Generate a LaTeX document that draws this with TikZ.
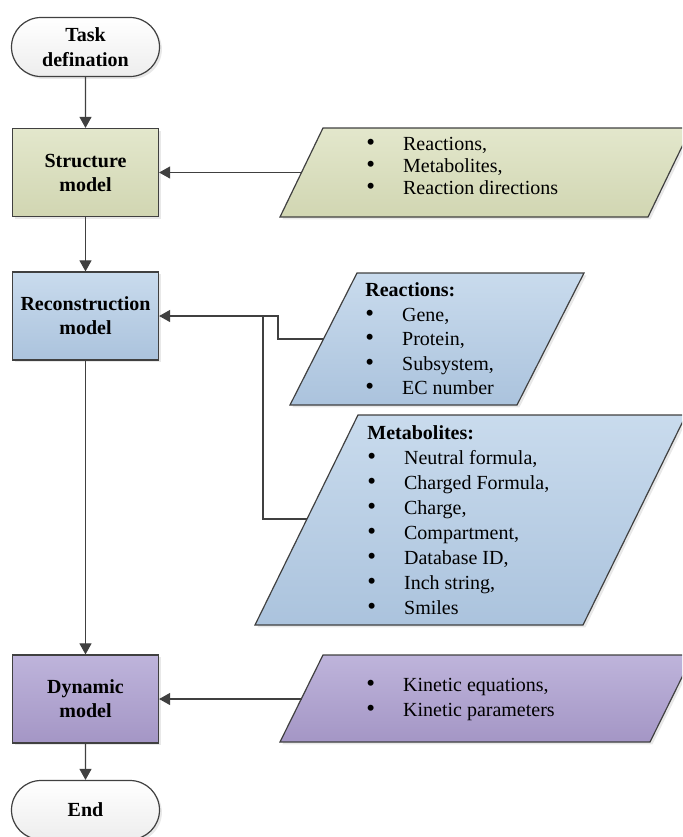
\documentclass[tikz,border=0pt]{standalone}
\usepackage{fontspec}
\setmainfont{Liberation Serif}
\usetikzlibrary{arrows.meta,shapes.misc,shadows}

\definecolor{linegray}{HTML}{404040}
\definecolor{greentop}{HTML}{E3E7CC}
\definecolor{greenbot}{HTML}{D1D6B2}
\definecolor{bluetop}{HTML}{C9DBED}
\definecolor{bluebot}{HTML}{ABC3DD}
\definecolor{purptop}{HTML}{BEB4DB}
\definecolor{purpbot}{HTML}{A496C5}

\tikzset{
  softshadow/.style={drop shadow={opacity=.18,shadow xshift=1.2pt,shadow yshift=-1.2pt}},
  term/.style={rounded rectangle,draw=linegray,line width=.6pt,top color=white,bottom color=gray!14,
    minimum width=74pt,minimum height=29.5pt,inner sep=0pt,align=center,
    font=\fontsize{10}{12.5}\selectfont\bfseries,softshadow},
  model/.style={rectangle,draw=linegray,line width=.6pt,minimum width=73pt,minimum height=44pt,
    inner sep=0pt,align=center,font=\fontsize{10}{12}\selectfont\bfseries,softshadow},
  datashape/.style={draw=linegray,line width=.6pt,softshadow},
  flow/.style={draw=linegray,line width=.55pt,-{Triangle[length=5.5pt,width=6pt]}},
  link/.style={draw=linegray,line width=.55pt},
  list/.style={anchor=west,align=left,inner sep=0pt},
}
\newcommand{\bul}{{\fontsize{12.5}{12}\selectfont\textbullet}\hspace{14pt}}

\begin{document}
\begin{tikzpicture}[x=.5pt,y=-.5pt,line join=miter]
\useasboundingbox (0,0) rectangle (682,837);
\clip (0,0) rectangle (682,837);

% main column
\node[term] (task) at (85.5,47) {Task\\defination};
\node[model,top color=greentop,bottom color=greenbot] (structure) at (85.5,172.5) {Structure\\model};
\node[model,top color=bluetop,bottom color=bluebot] (recon) at (85.5,316) {Reconstruction\\model};
\node[model,top color=purptop,bottom color=purpbot] (dynamic) at (85.5,699) {Dynamic\\model};
\node[term] (end) at (85.5,810) {End};

% data
\draw[datashape,top color=greentop,bottom color=greenbot] (323,128)--(691,128)--(648,217)--(280,217)--cycle;
\coordinate (strin) at (301.5,172.5);
\node[list,font=\fontsize{10}{11}\selectfont] (strlist) at (366,166) {\bul Reactions,\\\bul Metabolites,\\\bul Reaction directions};

\draw[datashape,top color=bluetop,bottom color=bluebot] (357,273)--(584,273)--(517,405)--(290,405)--cycle;
\coordinate (reacin) at (323.5,339);
\node[list,font=\fontsize{10}{12.25}\selectfont] (reaclist) at (365,339) {\textbf{Reactions:}\\\bul Gene,\\\bul Protein,\\\bul Subsystem,\\\bul EC number};

\draw[datashape,top color=bluetop,bottom color=bluebot] (358,415)--(686,415)--(583,625)--(255,625)--cycle;
\coordinate (metin) at (307,519);
\node[list,font=\fontsize{10}{12.5}\selectfont] (metlist) at (367,520.5) {\textbf{Metabolites:}\\\bul Neutral formula,\\\bul Charged Formula,\\\bul Charge,\\\bul Compartment,\\\bul Database ID,\\\bul Inch string,\\\bul Smiles};

\draw[datashape,top color=purptop,bottom color=purpbot] (323,655)--(693,655)--(650,742)--(280,742)--cycle;
\coordinate (dynin) at (301.5,699);
\node[list,font=\fontsize{10}{12.5}\selectfont] (dynlist) at (366,699.5) {\bul Kinetic equations,\\\bul Kinetic parameters};

% connectors
\coordinate (jA) at (278,316);
\coordinate (jB) at (263,316);
\draw[flow] (task) -- (structure);
\draw[flow] (structure) -- (recon);
\draw[flow] (recon) -- (dynamic);
\draw[flow] (dynamic) -- (end);
\draw[flow] (strin) -- (structure);
\draw[flow] (reacin) -| (jA) -- (recon);
\draw[link] (metin) -| (jB);
\draw[flow] (dynin) -- (dynamic);
\end{tikzpicture}
\end{document}
